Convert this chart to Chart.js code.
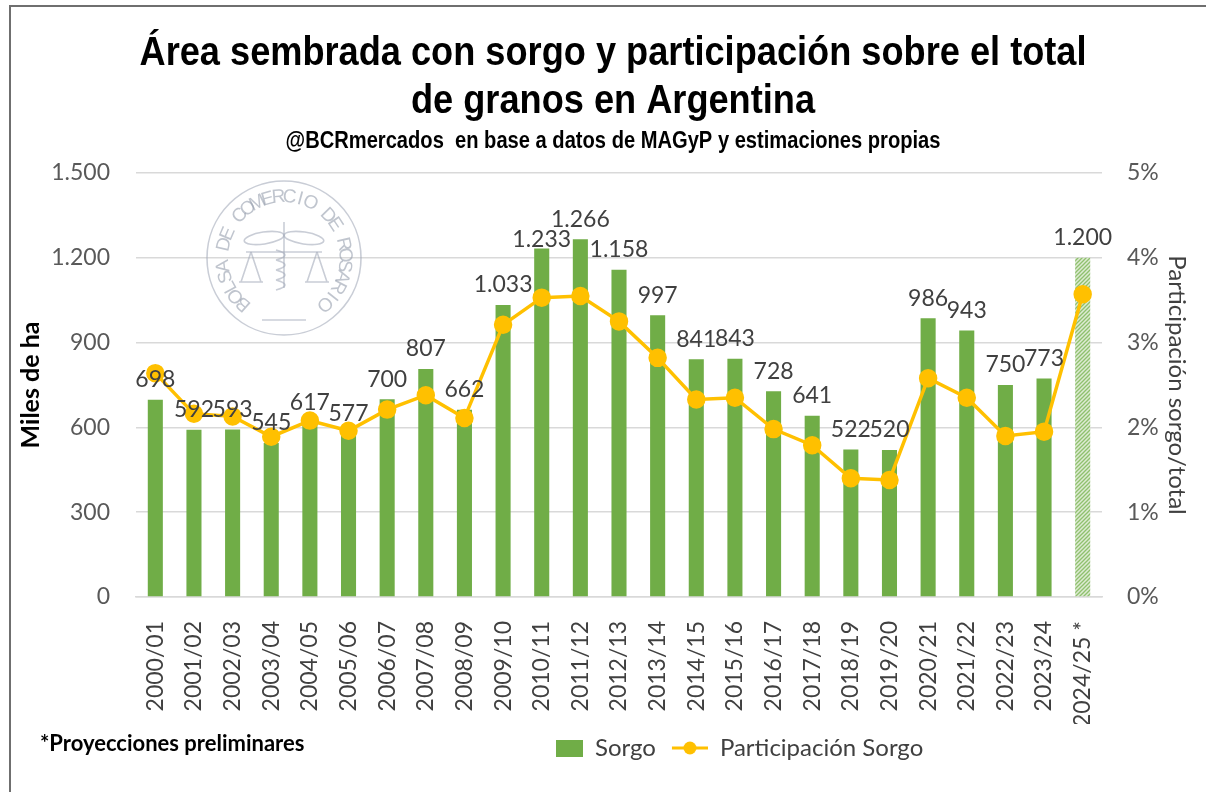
<!DOCTYPE html>
<html>
<head>
<meta charset="utf-8">
<script src="https://cdn.jsdelivr.net/npm/chart.js@4.4.1/dist/chart.umd.min.js"></script>
<style>
  html, body { margin: 0; padding: 0; background: #fff; }
  #wrap { position: relative; width: 1213px; height: 792px; }
</style>
</head>
<body>
<div id="wrap"><canvas id="c" width="1213" height="792"></canvas></div>
<script>
const categories = ['2000/01','2001/02','2002/03','2003/04','2004/05','2005/06','2006/07','2007/08','2008/09','2009/10','2010/11','2011/12','2012/13','2013/14','2014/15','2015/16','2016/17','2017/18','2018/19','2019/20','2020/21','2021/22','2022/23','2023/24','2024/25 *'];
const sorgo = [698,592,593,545,617,577,700,807,662,1033,1233,1266,1158,997,841,843,728,641,522,520,986,943,750,773,1200];
const participacion = [2.64,2.16,2.13,1.89,2.08,1.96,2.21,2.38,2.11,3.21,3.53,3.55,3.25,2.82,2.33,2.35,1.98,1.79,1.40,1.38,2.58,2.35,1.90,1.95,3.57];
const projectedIndex = 24;
const leftTicks = [0,300,600,900,1200,1500];
const rightTicks = [0,1,2,3,4,5];

const titleLines = ['Área sembrada con sorgo y participación sobre el total', 'de granos en Argentina'];
const subtitleText = '@BCRmercados  en base a datos de MAGyP y estimaciones propias';
const footnote = '*Proyecciones preliminares';

const GREEN = '#70AD47';
const GOLD = '#FFC000';
const TXT = '#404040';
const NUMFONT = 'Lato, "Open Sans", sans-serif';
const HEADFONT = '"Liberation Sans", Arial, sans-serif';

function fmt(v) {
  const s = String(Math.round(v));
  return s.replace(/\B(?=(\d{3})+(?!\d))/g, '.');
}

function hatchPattern() {
  const c = document.createElement('canvas');
  c.width = 4; c.height = 4;
  const g = c.getContext('2d');
  g.fillStyle = '#DDEBD2'; g.fillRect(0, 0, 4, 4);
  g.strokeStyle = '#8FC06E'; g.lineWidth = 1.3;
  g.beginPath();
  g.moveTo(0, 4); g.lineTo(4, 0);
  g.moveTo(-1, 1); g.lineTo(1, -1);
  g.moveTo(3, 5); g.lineTo(5, 3);
  g.stroke();
  return g.createPattern(c, 'repeat');
}
const hatch = hatchPattern();

function legendIconBar() {
  const c = document.createElement('canvas');
  c.width = 40; c.height = 18;
  const g = c.getContext('2d');
  g.fillStyle = GREEN; g.fillRect(13, 1, 27, 17);
  return c;
}
function legendIconLine() {
  const c = document.createElement('canvas');
  c.width = 40; c.height = 18;
  const g = c.getContext('2d');
  g.strokeStyle = GOLD; g.lineWidth = 3;
  g.beginPath(); g.moveTo(4, 9); g.lineTo(40, 9); g.stroke();
  g.fillStyle = GOLD; g.beginPath(); g.arc(22, 9, 6.5, 0, Math.PI * 2); g.fill();
  return c;
}

const framePlugin = {
  id: 'frame',
  beforeDraw(chart) {
    const ctx = chart.ctx;
    ctx.save();
    ctx.fillStyle = '#fff';
    ctx.fillRect(0, 0, chart.width, chart.height);
    ctx.strokeStyle = '#6f6f6f';
    ctx.lineWidth = 2;
    ctx.beginPath();
    ctx.moveTo(10, chart.height); ctx.lineTo(10, 6); ctx.lineTo(1206, 6);
    ctx.stroke();
    ctx.restore();
  },
  afterLayout(chart) {
    // shift the legend row so that it sits to the right of the footnote, as in the original
    const lg = chart.legend;
    if (!lg || !lg.lineWidths) return;
    const pad = lg.options.labels.padding;
    const rowStart = (lg.left + pad + lg.right - lg.lineWidths[0]) / 2;
    const delta = 543 - rowStart;
    lg.left += delta; lg.right += delta;
  },
  afterDraw(chart) {
    const ctx = chart.ctx;
    ctx.save();
    ctx.fillStyle = '#000';
    ctx.textAlign = 'center';
    ctx.textBaseline = 'alphabetic';
    ctx.font = 'bold 40px ' + HEADFONT;
    const sx = 947 / ctx.measureText(titleLines[0]).width;
    titleLines.forEach((t, i) => {
      ctx.save();
      ctx.translate(613, 65 + i * 48);
      ctx.scale(sx, 1);
      ctx.fillText(t, 0, 0);
      ctx.restore();
    });
    ctx.font = 'bold 23px ' + HEADFONT;
    const sx2 = 655 / ctx.measureText(subtitleText).width;
    ctx.save();
    ctx.translate(613, 148);
    ctx.scale(sx2, 1);
    ctx.fillText(subtitleText, 0, 0);
    ctx.restore();

    ctx.textAlign = 'left';
    ctx.textBaseline = 'middle';
    ctx.font = 'bold 22px ' + NUMFONT;
    ctx.fillText(footnote, 40, 744, 265);
    ctx.restore();
  }
};

const sealPlugin = {
  id: 'seal',
  beforeDatasetsDraw(chart) {
    const ctx = chart.ctx;
    const cx = 284, cy = 258, R = 77;
    ctx.save();
    ctx.strokeStyle = 'rgba(165,172,186,0.6)';
    ctx.fillStyle = 'rgba(150,158,174,0.6)';
    ctx.lineWidth = 1.6;
    ctx.beginPath(); ctx.arc(cx, cy, R, 0, Math.PI * 2); ctx.stroke();
    const txt = 'BOLSA DE COMERCIO DE ROSARIO';
    ctx.font = '19px "Liberation Sans", sans-serif';
    ctx.textAlign = 'center'; ctx.textBaseline = 'middle';
    const a0 = Math.PI * 0.73, a1 = Math.PI * 2.27;
    for (let i = 0; i < txt.length; i++) {
      const a = a0 + (a1 - a0) * i / (txt.length - 1);
      ctx.save();
      ctx.translate(cx + Math.cos(a) * (R - 16), cy + Math.sin(a) * (R - 16));
      ctx.rotate(a + Math.PI / 2);
      ctx.fillText(txt[i], 0, 0);
      ctx.restore();
    }
    // emblem: caduceus, wings and scales
    ctx.beginPath(); ctx.moveTo(cx, cy - 36); ctx.lineTo(cx, cy + 30); ctx.stroke();
    ctx.beginPath(); ctx.ellipse(cx - 20, cy - 20, 20, 6, -0.15, 0, Math.PI * 2); ctx.stroke();
    ctx.beginPath(); ctx.ellipse(cx + 20, cy - 20, 20, 6, 0.15, 0, Math.PI * 2); ctx.stroke();
    ctx.beginPath();
    for (let k = 0; k < 4; k++) {
      ctx.moveTo(cx - 8, cy - 8 + k * 10);
      ctx.quadraticCurveTo(cx + 10, cy - 3 + k * 10, cx - 8, cy + 2 + k * 10);
    }
    ctx.stroke();
    ctx.beginPath(); ctx.moveTo(cx - 38, cy - 6); ctx.lineTo(cx + 38, cy - 6); ctx.stroke();
    [-33, 33].forEach(dx => {
      ctx.beginPath();
      ctx.moveTo(cx + dx, cy - 6); ctx.lineTo(cx + dx - 10, cy + 24);
      ctx.moveTo(cx + dx, cy - 6); ctx.lineTo(cx + dx + 10, cy + 24);
      ctx.moveTo(cx + dx - 12, cy + 24); ctx.lineTo(cx + dx + 12, cy + 24);
      ctx.stroke();
    });
    ctx.beginPath(); ctx.moveTo(cx - 22, cy + 62); ctx.lineTo(cx + 22, cy + 62); ctx.stroke();
    ctx.restore();
  }
};

const labelPlugin = {
  id: 'barLabels',
  afterDatasetsDraw(chart) {
    const meta = chart.getDatasetMeta(0);
    const ctx = chart.ctx;
    ctx.save();
    ctx.font = '23px ' + NUMFONT;
    ctx.fillStyle = TXT;
    ctx.textAlign = 'center';
    ctx.textBaseline = 'middle';
    const items = meta.data.map((bar, i) => {
      const t = fmt(sorgo[i]);
      return { t, x: bar.x, y: bar.y - 20, w: ctx.measureText(t).width, h: 20, v: sorgo[i] };
    });
    // simple overlap avoidance: higher labels keep their place, lower ones slide down
    const placed = [];
    items.slice().sort((a, b) => b.v - a.v).forEach(it => {
      let moved = true, guard = 0;
      while (moved && guard++ < 10) {
        moved = false;
        for (const p of placed) {
          const ox = Math.min(it.x + it.w / 2, p.x + p.w / 2) - Math.max(it.x - it.w / 2, p.x - p.w / 2);
          const oy = Math.min(it.y + it.h / 2, p.y + p.h / 2) - Math.max(it.y - it.h / 2, p.y - p.h / 2);
          if (ox > 3 && oy > 0) { it.y = p.y + p.h; moved = true; }
        }
      }
      placed.push(it);
    });
    items.forEach(it => ctx.fillText(it.t, it.x, it.y));
    ctx.restore();
  }
};

new Chart(document.getElementById('c'), {
  data: {
    labels: categories,
    datasets: [
      {
        type: 'bar',
        label: 'Sorgo',
        data: sorgo,
        yAxisID: 'y',
        order: 1,
        backgroundColor: sorgo.map((v, i) => i === projectedIndex ? hatch : GREEN),
        borderWidth: 0,
        barPercentage: 0.39,
        categoryPercentage: 1.0
      },
      {
        type: 'line',
        label: 'Participación Sorgo',
        data: participacion,
        yAxisID: 'y1',
        order: 0,
        borderColor: GOLD,
        backgroundColor: GOLD,
        borderWidth: 3.5,
        pointRadius: 7.5,
        pointBackgroundColor: GOLD,
        pointBorderColor: GOLD,
        tension: 0
      }
    ]
  },
  options: {
    responsive: false,
    animation: false,
    layout: { padding: { left: 12, right: 22, top: 173, bottom: 22 } },
    plugins: {
      tooltip: { enabled: false },
      title: { display: false },
      legend: {
        position: 'bottom',
        labels: {
          usePointStyle: true,
          pointStyleWidth: 40,
          boxHeight: 18,
          color: TXT,
          padding: 12,
          font: { family: NUMFONT, size: 24 },
          generateLabels(chart) {
            return [
              { text: 'Sorgo', pointStyle: legendIconBar(), fillStyle: GREEN, strokeStyle: GREEN, lineWidth: 0, datasetIndex: 0, fontColor: TXT },
              { text: 'Participación Sorgo', pointStyle: legendIconLine(), fillStyle: GOLD, strokeStyle: GOLD, lineWidth: 0, datasetIndex: 1, fontColor: TXT }
            ];
          }
        }
      }
    },
    scales: {
      x: {
        grid: { display: false },
        border: { display: true, color: '#D9D9D9', width: 1.5 },
        ticks: {
          autoSkip: false, minRotation: 90, maxRotation: 90, padding: 16,
          color: TXT, font: { family: NUMFONT, size: 23 }
        },
        afterFit(scale) { scale.height = 127; }
      },
      y: {
        position: 'left',
        min: 0, max: 1500,
        afterBuildTicks(scale) { scale.ticks = leftTicks.map(v => ({ value: v })); },
        grid: { color: '#D9D9D9', lineWidth: 1.5, drawTicks: false },
        border: { display: false },
        ticks: { padding: 26, color: '#595959', font: { family: NUMFONT, size: 23 }, callback: v => fmt(v) },
        title: { display: true, text: 'Miles de ha', color: '#000', font: { family: NUMFONT, size: 25, weight: 'bold' }, padding: { top: 4, bottom: 0 } },
        afterFit(scale) { scale.width = 124; }
      },
      y1: {
        position: 'right',
        min: 0, max: 5,
        afterBuildTicks(scale) { scale.ticks = rightTicks.map(v => ({ value: v })); },
        grid: { display: false, drawTicks: false },
        border: { display: false },
        ticks: { padding: 25, color: '#595959', font: { family: NUMFONT, size: 23 }, callback: v => v + '%' },
        title: { display: true, text: 'Participación sorgo/total', color: TXT, font: { family: NUMFONT, size: 24 }, padding: { top: 0, bottom: 0 } },
        afterFit(scale) { scale.width = 89; }
      }
    }
  },
  plugins: [framePlugin, sealPlugin, labelPlugin]
});
</script>
</body>
</html>
